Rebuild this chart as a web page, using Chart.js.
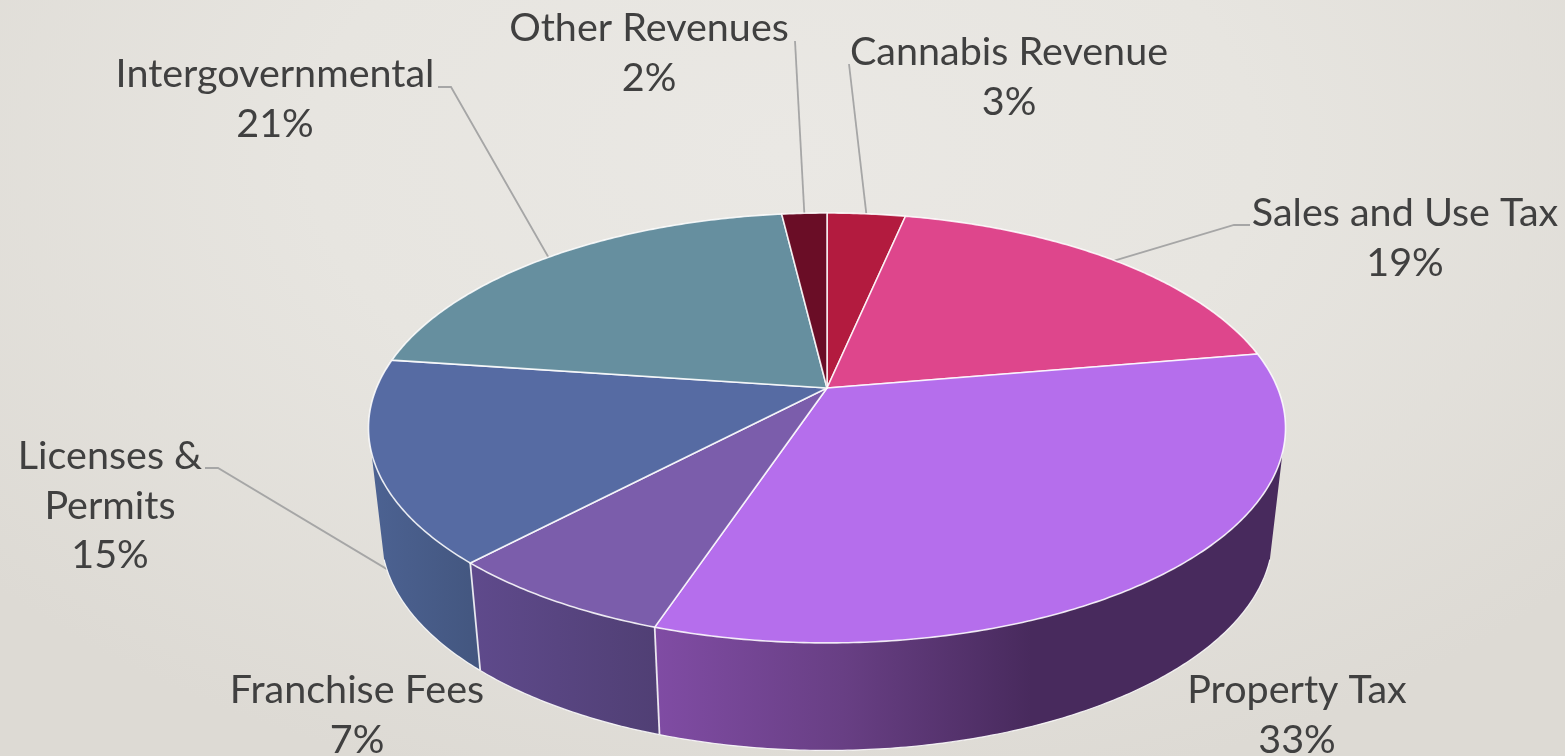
<!DOCTYPE html>
<html>
<head>
<meta charset="utf-8">
<title>Revenue by source</title>
<script src="https://cdn.jsdelivr.net/npm/chart.js@4"></script>
<style>
  html, body { margin: 0; padding: 0; overflow: hidden; }
  body {
    width: 1565px; height: 756px;
    background: radial-gradient(ellipse 1050px 660px at 50% 20%, #eae8e4 0%, #e7e5e0 45%, #dddad4 100%);
  }
  canvas { display: block; filter: blur(0.4px); }
</style>
</head>
<body>
<canvas id="revenueChart" width="1565" height="756"></canvas>
<script>
// Data, clockwise from 12 o'clock
const categories = ['Cannabis Revenue', 'Sales and Use Tax', 'Property Tax', 'Franchise Fees', 'Licenses &\nPermits', 'Intergovernmental', 'Other Revenues'];
const shares = [3.3, 19, 32.8, 6.9, 15.2, 20.9, 1.9];

// Styles
const sliceColors = ['#b31b3f', '#de468c', '#b56eec', '#7b5dab', '#566ba3', '#668f9f', '#6a0d26'];
const wallStops = [
  null, null,
  [[0, '#804ca4'], [0.3, '#683f84'], [0.6, '#482a5d'], [1, '#482a5d']],
  [[0, '#5f4a8c'], [1, '#503f74']],
  [[0, '#4c6292'], [1, '#43567f']],
  null, null
];

// Perspective of the disc
const cx = 827, cy = 388, radiusX = 450.5, radiusY = 207.5, tilt = 0.186;
const depth = 107.5, bottomScale = 0.972;
const wallFrom = 17 * Math.PI / 180, wallTo = 163 * Math.PI / 180; // part of the rim facing us

// Label placement: centre x, baseline of first line, optional leader elbow
const labelLayout = [
  { x: 1009, y: 65, leader: [[849, 64]] },
  { x: 1405, y: 226, leader: [[1250, 225], [1234, 225]] },
  { x: 1297, y: 703 },
  { x: 357, y: 703 },
  { x: 110, y: 469, leader: [[205, 468], [218, 468]], onBottomRim: true },
  { x: 275, y: 87, leader: [[438, 87], [451, 87]] },
  { x: 649, y: 41, leader: [[795, 41]] }
];

function topPoint(angle) {
  const u = Math.cos(angle), v = Math.sin(angle);
  const f = 1 / (1 - tilt * v);
  return [cx + radiusX * u * f, cy + radiusY * v * f];
}

function bottomPoint(angle) {
  const p = topPoint(angle);
  return [cx + (p[0] - cx) * bottomScale, p[1] + depth];
}

function rimPoints(from, to, project) {
  const pts = [];
  const steps = Math.max(2, Math.ceil((to - from) / 0.01));
  for (let i = 0; i <= steps; i++) {
    pts.push(project(from + (to - from) * i / steps));
  }
  return pts;
}

function tracePoints(ctx, pts) {
  pts.forEach((p, i) => i ? ctx.lineTo(p[0], p[1]) : ctx.moveTo(p[0], p[1]));
}

function drawLeaders(ctx, arcs) {
  ctx.strokeStyle = '#a6a6a6';
  ctx.lineWidth = 1.8;
  arcs.forEach((arc, i) => {
    const layout = labelLayout[i];
    if (!layout.leader) return;
    const mid = (arc.startAngle + arc.endAngle) / 2;
    const end = layout.onBottomRim ? bottomPoint(mid) : topPoint(mid);
    ctx.beginPath();
    tracePoints(ctx, layout.leader.concat([end]));
    ctx.stroke();
  });
}

function drawWalls(ctx, arcs) {
  arcs.forEach((arc, i) => {
    const from = Math.max(arc.startAngle, wallFrom);
    const to = Math.min(arc.endAngle, wallTo);
    if (to <= from || !wallStops[i]) return;
    const top = rimPoints(from, to, topPoint);
    const bottom = rimPoints(from, to, bottomPoint);
    const xs = top.concat(bottom).map(p => p[0]);
    const fill = ctx.createLinearGradient(Math.min(...xs), 0, Math.max(...xs), 0);
    wallStops[i].forEach(s => fill.addColorStop(s[0], s[1]));
    ctx.beginPath();
    tracePoints(ctx, top.concat(bottom.slice().reverse()));
    ctx.closePath();
    ctx.fillStyle = fill;
    ctx.fill();
    ctx.strokeStyle = 'rgba(255,255,255,0.85)';
    ctx.lineWidth = 1.2;
    ctx.beginPath();
    tracePoints(ctx, bottom);
    ctx.stroke();
    if (arc.startAngle > wallFrom) {
      ctx.lineWidth = 1.8;
      ctx.beginPath();
      tracePoints(ctx, [topPoint(arc.startAngle), bottomPoint(arc.startAngle)]);
      ctx.stroke();
    }
  });
}

function drawFaces(ctx, arcs) {
  arcs.forEach(arc => {
    ctx.beginPath();
    tracePoints(ctx, [[cx, cy]].concat(rimPoints(arc.startAngle, arc.endAngle, topPoint)));
    ctx.closePath();
    ctx.fillStyle = arc.options.backgroundColor;
    ctx.fill();
    ctx.strokeStyle = 'rgba(255,255,255,0.85)';
    ctx.lineWidth = 1.6;
    ctx.lineJoin = 'round';
    ctx.stroke();
  });
}

function drawLabels(ctx) {
  const total = shares.reduce((a, b) => a + b, 0);
  ctx.font = '39.5px Lato';
  ctx.fillStyle = '#404040';
  ctx.textAlign = 'center';
  ctx.textBaseline = 'alphabetic';
  categories.forEach((name, i) => {
    const layout = labelLayout[i];
    const lines = name.split('\n').concat(Math.round(shares[i] / total * 100) + '%');
    lines.forEach((line, n) => ctx.fillText(line, layout.x, layout.y + n * 49.5));
  });
}

// Chart.js works out the slice angles, this plugin draws them in perspective
const tiltedPie = {
  id: 'tiltedPie',
  beforeDatasetsDraw(chart) {
    const ctx = chart.ctx;
    const arcs = chart.getDatasetMeta(0).data;
    ctx.save();
    drawLeaders(ctx, arcs);
    drawWalls(ctx, arcs);
    drawFaces(ctx, arcs);
    drawLabels(ctx);
    ctx.restore();
    return false;
  }
};

const revenueChart = new Chart(document.getElementById('revenueChart').getContext('2d'), {
  type: 'pie',
  data: {
    labels: categories,
    datasets: [{ data: shares, backgroundColor: sliceColors, borderColor: '#ffffff' }]
  },
  options: {
    responsive: false,
    animation: false,
    plugins: { legend: { display: false }, tooltip: { enabled: false } }
  },
  plugins: [tiltedPie]
});
</script>
</body>
</html>
